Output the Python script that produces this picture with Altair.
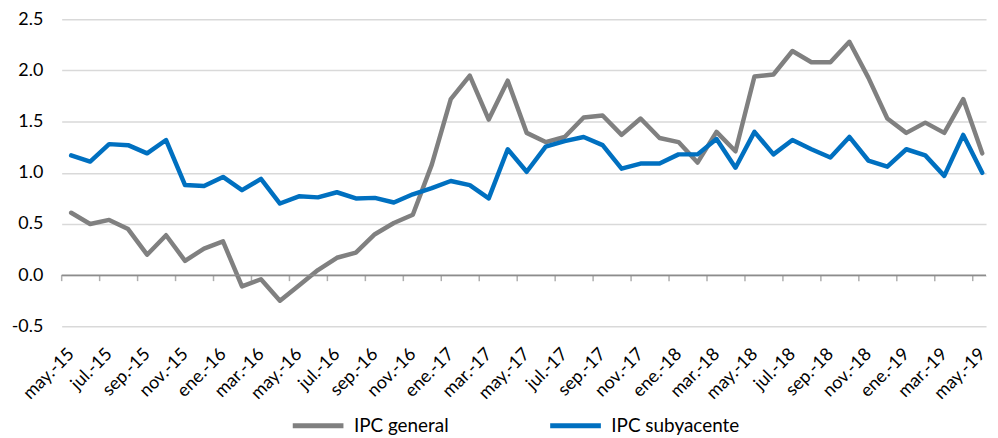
import altair as alt
import pandas as pd

months = [
    "may.-15", "jun.-15", "jul.-15", "ago.-15", "sep.-15", "oct.-15", "nov.-15", "dic.-15",
    "ene.-16", "feb.-16", "mar.-16", "abr.-16", "may.-16", "jun.-16", "jul.-16", "ago.-16",
    "sep.-16", "oct.-16", "nov.-16", "dic.-16", "ene.-17", "feb.-17", "mar.-17", "abr.-17",
    "may.-17", "jun.-17", "jul.-17", "ago.-17", "sep.-17", "oct.-17", "nov.-17", "dic.-17",
    "ene.-18", "feb.-18", "mar.-18", "abr.-18", "may.-18", "jun.-18", "jul.-18", "ago.-18",
    "sep.-18", "oct.-18", "nov.-18", "dic.-18", "ene.-19", "feb.-19", "mar.-19", "abr.-19",
    "may.-19",
]

ipc_general = [
    0.61, 0.50, 0.54, 0.45, 0.20, 0.39, 0.14, 0.26, 0.33, -0.11,
    -0.04, -0.25, -0.10, 0.05, 0.17, 0.22, 0.40, 0.51, 0.59, 1.08,
    1.72, 1.95, 1.52, 1.90, 1.39, 1.30, 1.35, 1.54, 1.56, 1.37,
    1.53, 1.34, 1.30, 1.10, 1.40, 1.21, 1.94, 1.96, 2.19, 2.08,
    2.08, 2.28, 1.93, 1.53, 1.39, 1.49, 1.39, 1.72, 1.19,
]

ipc_subyacente = [
    1.17, 1.11, 1.28, 1.27, 1.19, 1.32, 0.88, 0.87, 0.96, 0.83,
    0.94, 0.70, 0.77, 0.76, 0.81, 0.75, 0.755, 0.71, 0.79, 0.85,
    0.92, 0.88, 0.75, 1.23, 1.01, 1.255, 1.31, 1.35, 1.27, 1.04,
    1.09, 1.09, 1.18, 1.18, 1.33, 1.05, 1.40, 1.18, 1.32, 1.23,
    1.15, 1.35, 1.12, 1.06, 1.23, 1.17, 0.97, 1.37, 1.00,
]

series_names = ["IPC general", "IPC subyacente"]
series_colors = ["#808080", "#0070C0"]
y_ticks = [-0.5, 0.0, 0.5, 1.0, 1.5, 2.0, 2.5]

n = len(months)
df = pd.DataFrame({
    "idx": list(range(n)) * 2,
    "mes": months * 2,
    "serie": [series_names[0]] * n + [series_names[1]] * n,
    "valor": ipc_general + ipc_subyacente,
})
cat_df = pd.DataFrame({"idx": list(range(n))})
zero_df = pd.DataFrame({"idx": [0], "valor": [0.0]})

FONT = "Lato"
label_expr = "[" + ",".join(f"'{m}'" for m in months) + "][datum.value]"

x_scale = alt.Scale(domain=[-0.5, n - 0.8], nice=False, zero=False)
y_scale = alt.Scale(domain=[y_ticks[0], y_ticks[-1]], nice=False, zero=False)

x_axis = alt.Axis(
    values=list(range(0, n, 2)), labelExpr=label_expr, labelAngle=-45,
    labelAlign="right", labelBaseline="middle", labelFontSize=18, labelFont=FONT,
    labelColor="#000000", labelPadding=25, ticks=False, domain=False, grid=False,
    title=None, labelOverlap=False, labelBound=False, labelFlush=False)
y_axis = alt.Axis(
    values=y_ticks,
    labelExpr="datum.value < 0 ? '-' + format(-datum.value, '.1f') : format(datum.value, '.1f')",
    labelFontSize=18, labelFont=FONT, labelColor="#000000", labelPadding=19,
    ticks=False, domain=False, grid=True, gridColor="#d9d9d9", gridWidth=1.5,
    title=None)

lines = alt.Chart(df).mark_line(strokeWidth=4.5, strokeJoin="round", strokeCap="round").encode(
    x=alt.X("idx:Q", scale=x_scale, axis=x_axis),
    y=alt.Y("valor:Q", scale=y_scale, axis=y_axis),
    color=alt.Color("serie:N", scale=alt.Scale(domain=series_names, range=series_colors),
                    legend=alt.Legend(
                        title=None, orient="none", direction="horizontal",
                        legendX=230, legendY=381, symbolType="stroke", symbolSize=2601,
                        symbolStrokeWidth=5, labelFontSize=19, labelFont=FONT,
                        labelColor="#000000", labelOffset=8, columnPadding=91,
                        padding=0)),
)

zero_line = alt.Chart(zero_df).mark_rule(color="#8c8c8c", strokeWidth=1.5).encode(
    y=alt.Y("valor:Q", scale=y_scale, axis=y_axis),
)

cat_ticks = alt.Chart(cat_df).transform_filter("datum.idx % 2 == 0").transform_calculate(
    b="datum.idx - 0.5", valor="0"
).mark_tick(orient="vertical", size=6, thickness=1.5, yOffset=3, color="#8c8c8c").encode(
    x=alt.X("b:Q", scale=x_scale, axis=x_axis),
    y=alt.Y("valor:Q", scale=y_scale, axis=y_axis),
)

chart = alt.layer(lines, zero_line, cat_ticks).properties(
    width=930, height=309,
    autosize=alt.AutoSizeParams(type="none"),
    padding={"left": 54, "top": 10, "right": 4, "bottom": 108},
    background="white",
).configure_view(stroke=None)

chart.save("out.html", embed_options={"renderer": "svg", "actions": False})
